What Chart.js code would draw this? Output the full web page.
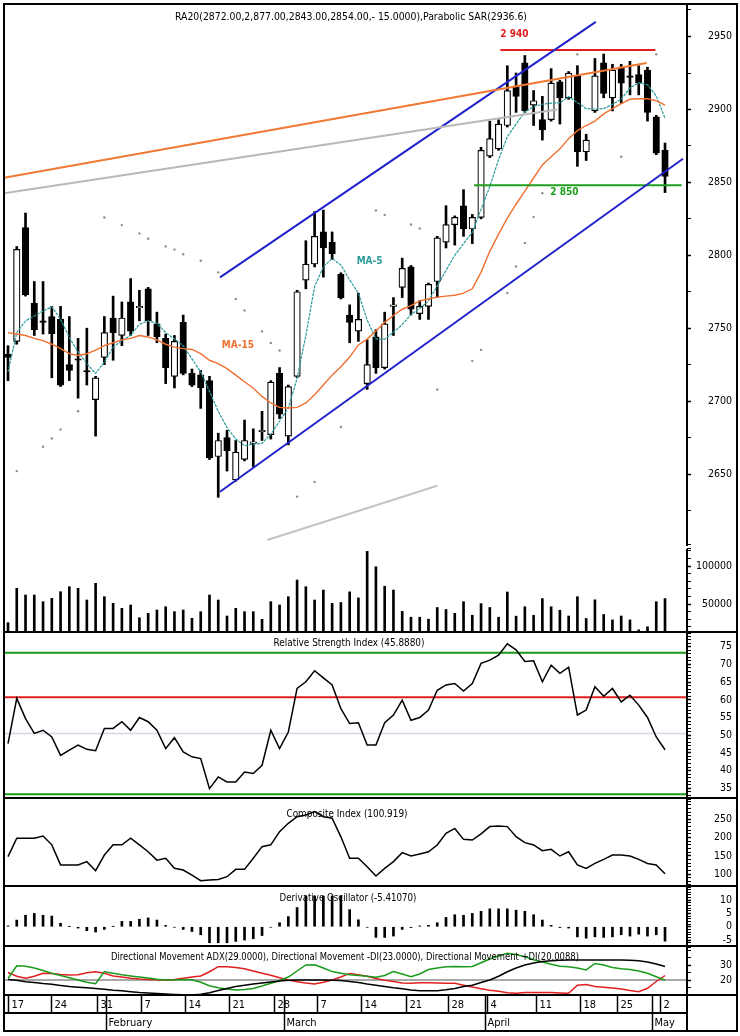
<!DOCTYPE html>
<html><head><meta charset="utf-8">
<script src="https://cdn.jsdelivr.net/npm/chart.js@4.4.1/dist/chart.umd.min.js"></script>
<style>
html,body{margin:0;padding:0;background:#fff;}
#wrap{position:relative;width:740px;height:1036px;overflow:hidden;background:#fff;}
canvas{position:absolute;left:0;}
.ln{position:absolute;background:#000;z-index:5;}
</style></head><body><div id="wrap">
<canvas id="cPrice" width="740" height="543" style="top:5px"></canvas>
<canvas id="cVol" width="740" height="84" style="top:548px"></canvas>
<canvas id="cRsi" width="740" height="164" style="top:633px"></canvas>
<canvas id="cCi" width="740" height="87" style="top:799px"></canvas>
<canvas id="cDo" width="740" height="58" style="top:887px"></canvas>
<canvas id="cDmi" width="740" height="85" style="top:947px"></canvas>
<div class="ln" style="left:3px;top:3px;width:735px;height:2px"></div>
<div class="ln" style="left:3px;top:1030px;width:735px;height:2px"></div>
<div class="ln" style="left:3px;top:3px;width:2px;height:1029px"></div>
<div class="ln" style="left:736px;top:3px;width:2px;height:1029px"></div>
<div class="ln" style="left:686px;top:3px;width:2px;height:543px"></div>
<div class="ln" style="left:686px;top:549px;width:2px;height:483px"></div>
<div class="ln" style="left:3px;top:631px;width:735px;height:2px"></div>
<div class="ln" style="left:3px;top:797px;width:735px;height:2px"></div>
<div class="ln" style="left:3px;top:885px;width:735px;height:2px"></div>
<div class="ln" style="left:3px;top:945px;width:735px;height:2px"></div>
<div class="ln" style="left:3px;top:994px;width:735px;height:2px"></div>
<div class="ln" style="left:3px;top:1012px;width:684px;height:2px"></div>
</div>
<script>
// ---------------- DATA ----------------
const open  = [2732,2741,2819,2767,2755,2758,2756,2725,2729,2721,2701,2730,2757,2745,2768,2764,2777,2753,2743,2717,2754,2719,2718,2714,2662,2675,2646,2660,2671,2679,2677,2719,2676,2717,2783,2794,2816,2809,2787,2759,2748,2712,2744,2723,2765,2778,2792,2760,2765,2782,2809,2821,2834,2818,2826,2868,2873,2889,2916,2932,2903,2893,2893,2919,2908,2923,2871,2899,2932,2908,2929,2923,2924,2927,2895,2872];
const high  = [2738,2806,2829,2782,2782,2765,2765,2758,2743,2750,2717,2758,2772,2768,2784,2776,2778,2761,2746,2745,2759,2722,2721,2717,2678,2680,2673,2687,2681,2693,2714,2723,2711,2776,2810,2830,2831,2816,2788,2766,2774,2742,2749,2761,2771,2798,2793,2769,2781,2813,2834,2827,2845,2828,2874,2892,2893,2930,2925,2937,2913,2909,2928,2920,2926,2930,2883,2935,2938,2931,2931,2933,2930,2929,2896,2877];
const low   = [2714,2739,2772,2745,2746,2716,2710,2714,2702,2711,2676,2725,2728,2738,2745,2755,2745,2740,2712,2709,2718,2710,2695,2660,2634,2652,2645,2659,2655,2673,2674,2688,2670,2716,2777,2792,2785,2797,2770,2740,2741,2708,2719,2722,2745,2771,2759,2756,2756,2771,2805,2807,2813,2808,2825,2867,2872,2888,2898,2898,2889,2879,2892,2890,2907,2861,2865,2898,2908,2899,2904,2910,2910,2892,2869,2843];
const close = [2730,2804,2773,2749,2754,2746,2711,2721,2728,2720,2716,2747,2747,2757,2748,2765,2755,2744,2723,2741,2719,2711,2709,2661,2673,2666,2665,2673,2672,2680,2713,2691,2710,2775,2794,2813,2805,2801,2771,2754,2756,2725,2723,2753,2766,2791,2763,2765,2780,2812,2821,2826,2818,2826,2872,2880,2890,2913,2909,2899,2906,2886,2918,2908,2925,2871,2879,2923,2911,2927,2918,2922,2918,2898,2870,2854];
const ma5   = [2720,2747,2755,2758.4,2761.7,2764.7,2756,2743.7,2733.6,2725.7,2719,2726.8,2737,2741.5,2745,2752.7,2755,2753.4,2747,2742.6,2738,2729,2720,2706.6,2693,2681.8,2674,2669.4,2670.5,2671,2677.3,2686.3,2695.3,2715.6,2745,2778.6,2792.1,2797.8,2793.3,2783.1,2774,2755.6,2742.5,2742.5,2747.2,2752.4,2759.5,2763.4,2768.7,2779,2789.6,2800,2808,2815.8,2831.5,2847.2,2865.6,2881.3,2890,2898.4,2902,2903.6,2904.3,2904.7,2908.8,2904.7,2900.6,2900.2,2900.6,2903.6,2907,2914.8,2918.2,2917,2909.2,2894];
const ma15  = [2747,2746,2745,2743,2741.5,2739,2736,2732.5,2731.3,2732.5,2735,2738,2740,2742,2743,2745,2744,2742,2739,2737,2736,2735.4,2732.5,2728,2725.7,2722.3,2717.8,2713.3,2708.8,2703.2,2698.7,2695.7,2695.3,2695.7,2698.7,2704.3,2711,2717.8,2723.5,2730.2,2738.5,2742.5,2748,2754,2758.7,2763,2765.5,2768.7,2770,2771.3,2772,2772.6,2774,2777,2788.3,2802.7,2814.5,2825.5,2835,2844,2853,2862,2867.5,2873,2880,2885.5,2889,2892,2897,2900.6,2904,2907,2907.4,2907.4,2906,2903];
const sarIdx = [1,4,5,6,8,11,13,15,16,18,19,20,22,24,26,27,29,30,31,33,35,38,42,43,46,47,49,53,54,57,58,59,60,61,65,70,74];
const sarVal = [2652,2668.7,2674.3,2680.6,2693,2825.9,2820.7,2815,2811.3,2806.1,2803.9,2800.7,2796.2,2788.3,2770.1,2762.2,2747.8,2739.9,2734.7,2634.5,2644.6,2682.2,2830.7,2827.7,2821.1,2818.4,2708,2727.6,2735.1,2774.1,2792.3,2808.5,2826.2,2842.6,2937.8,2867.6,2937.8];
const volume = [25400,70660,61840,61840,53030,57500,66180,72760,70660,55260,77240,59600,50920,44340,48680,31970,37760,42100,46450,39870,42100,31180,39870,61840,55260,34210,44340,39870,39870,29870,53030,48680,59600,81580,72760,55260,68420,50920,52000,66000,58000,119300,99000,73400,68400,40300,32600,32600,30000,45400,42800,37700,53000,35200,50500,45400,32600,65800,34000,46400,35200,57100,46400,41800,34200,59600,31000,55500,36200,29100,34200,29100,16000,20000,53000,57100];
const rsi = [47.6,60.4,54.7,50.5,51.4,49.5,44.3,45.8,47.2,46,45.6,51.9,51.9,53.8,51.4,55,53.8,51.4,46.2,49.3,45.3,43.9,43.4,34.9,38.2,36.8,36.8,39.6,39.2,41.5,51.4,46.2,50.9,63.2,65.1,68.2,66.2,64.2,57.5,53.3,53.5,47.2,47.2,53.5,55.7,59.9,54.2,55,57.1,62.7,64.2,64.6,62.5,64.6,70.3,71.2,72.6,75.8,74.1,70.8,71,65.1,69.8,67.5,69.2,55.7,57.1,63.7,61,63.2,59.4,61.3,58.5,55,49.5,45.9];
const rsiLevels = [73.3, 60.7, 50.5, 33.3];
const composite = [147.5,198,198,198,204,180,125,125,125,134,109,152,180,180,198,180,161,138,143,115.5,111,97,81.7,83.5,85,92.6,112.7,112.7,143,175,180,216,239,257,262,271,257,253,202,143,143,120,94.5,115.5,134,158.5,149.4,155,161,179.5,211.6,225,195,193,210,230,231.7,230,202.4,186,179.6,164,167.7,149.4,161,125,115.5,129,140,152,152,149.4,140,129,125,100.9];
const derivOsc = [0.3,2.5,4.3,5,4.3,4,1.3,0.1,-0.5,-1.5,-2,-1,0.1,2,2,2.8,3.3,2.5,0.5,-0.2,-1,-1.8,-3,-6,-6,-6,-5.5,-5,-4.5,-3.3,-0.2,1.5,3.8,7.2,11.5,11.5,11.5,11.5,11.5,6.4,2.6,-0.2,-4,-4,-3.5,-1,-0.3,0.3,0.5,1.5,3.5,4.5,4.3,5,5.8,6.7,6.7,6.7,6.2,5.8,4.5,2.5,0.5,-0.3,-0.5,-3.8,-4.3,-3.8,-4,-3.8,-3,-3.5,-2.8,-3.5,-3,-5.41];
const adx = [20.3,19.8,18.8,18.3,17.6,17.1,16.4,15.7,15.2,14.8,14.4,13.9,13.2,12.8,12.2,11.7,11.4,11,10.7,10.4,10.1,10,10.5,11.5,13,14.4,15.6,16.5,17.3,18,18.6,19.3,19.8,20,20,20,20,19.8,19.6,19,18.3,17.3,16.5,15.6,14.8,14.2,13.3,12.9,12.9,12.9,13.5,14.4,15.6,16.5,18.3,20,22.5,25.5,28,30,31.3,32.3,32.9,33.2,33.3,33.3,33.3,33.3,33.3,33.3,33.3,33.2,32.9,32,30.6,29];
const diPlus = [21,29.5,29.2,28,26.3,24.5,23,21.5,20,18.5,17.5,25.6,24.5,23.5,22.7,22,21.3,20.5,20,20,20.4,20.2,18.5,16.2,14.8,14,13.3,13.6,14.4,16,17.8,19.5,22,26,30,30.2,28,25.6,24.5,23.5,23,22.5,21.8,23,25.6,24,22.2,24,27,28,28.9,29,28.9,29,31.5,34,36,37.8,37,35.5,33.5,32,30.5,29.2,28.9,28,26.7,31,30,28.3,27.5,27,26,24.5,22.2,20];
const diMinus = [25,22.5,21.1,22.5,24.5,24.3,23.6,23.3,23.5,24.8,25.5,24.5,22.7,22,21.2,20.6,20.3,20.1,20,20.4,21.2,22,22.7,25.5,28.9,28.8,28.4,27.5,26,24.5,23.2,21.5,20,18.9,18,17.3,18.5,20,22,24.4,23.5,22.5,21,19.8,19,18,17.8,18.2,18.2,18,17.8,17.8,16.5,15.3,14.2,13.2,12.5,11.5,11.2,11.6,11.6,11.6,11.6,11.3,11.1,16.5,17,15.6,15.2,14.6,14,13,12.2,14.5,19,23];
const dmiLevel = 20;
// trend lines: [index, price] pairs
const trendOrange = [[-0.46, 2853.2], [72.9, 2931.8]];
const trendGray   = [[-0.46, 2842.6], [62.7, 2900]];
const channelUp   = [[24.2, 2784.9], [67.1, 2960.1]];
const channelLow  = [[24.2, 2637.8], [77.05, 2866.2]];
const grayLow     = [[29.6, 2604.7], [49.0, 2641.9]];
const resistance  = [[56.2, 2940.7], [73.9, 2940.7]];
const support     = [[53.2, 2848], [76.9, 2848]];
// axis tick labels
const priceTickLabels = [2650, 2700, 2750, 2800, 2850, 2900, 2950];
const volTickLabels   = [50000, 100000];
const rsiTickLabels   = [35, 40, 45, 50, 55, 60, 65, 70, 75];
const ciTickLabels    = [100, 150, 200, 250];
const doTickLabels    = [-5, 0, 5, 10];
const dmiTickLabels   = [20, 30];
// date axis
const dayLabels = ['17','24','31','7','14','21','28','7','14','21','28','4','11','18','25','2','9'];
const dayPos    = [0,4.9,10.2,15.2,20.2,25.2,30.4,35.3,40.3,45.4,50.2,54.7,60.3,65.3,69.5,74.4,77.6];
const monthLabels = ['February','March','April','May'];
const monthPos    = [11.2,31.5,54.4,73.55];

// ---------------- HELPERS ----------------
const FONT = '"Liberation Sans Narrow","DejaVu Sans Condensed","Arial Narrow",sans-serif';
const X_MIN = -0.457, X_MAX = 77.51;
const idx = close.map((_, i) => i);
const series = arr => arr.map((v, i) => ({x: i, y: v}));
const pairLine = p => p.map(q => ({x: q[0], y: q[1]}));
const flat = v => [{x: X_MIN, y: v}, {x: X_MAX, y: v}];

function xScale(){ return {type:'linear', min:X_MIN, max:X_MAX, display:false, offset:false}; }
function yScale(min, max, step, labels){
  const isMajor = v => labels.some(l => Math.abs(l - v) < step * 1e-3);
  return {
    position:'right', min, max, beginAtZero:false,
    afterFit(s){ s.width = 45; },
    afterBuildTicks(s){
      const t = [{value:min}];
      for (let v = Math.ceil(min / step) * step; v < max - step * 1e-3; v += step) {
        const r = Math.round(v * 1000) / 1000;
        if (r > min + step * 1e-3) t.push({value:r});
      }
      t.push({value:max});
      s.ticks = t;
    },
    border:{display:false},
    grid:{drawOnChartArea:false, drawTicks:true, tickLength:4, tickColor:'#000',
          tickWidth:(c)=> (c.tick && isMajor(c.tick.value)) ? 1.5 : 1},
    ticks:{autoSkip:false, crossAlign:'far', padding:0,
           color:'#000', font:{family:FONT, size:10.5},
           callback:(v)=> isMajor(v) ? String(Math.round(v)) : []}
  };
}
function baseOpts(y, bottomPad){
  return {responsive:false, animation:false, events:[],
    layout:{padding:{left:4, right:8, top:0, bottom:bottomPad||0}},
    plugins:{legend:{display:false}, tooltip:{enabled:false}},
    scales:{x:xScale(), y:y}};
}
function titlePlugin(items){
  return {id:'titles', afterDraw(c){
    const ctx = c.ctx; ctx.save();
    ctx.fillStyle = '#000'; ctx.textAlign = 'center'; ctx.textBaseline = 'middle';
    ctx.font = '11px ' + FONT;
    for (const t of items) ctx.fillText(t.text, t.x, t.y, t.w);
    ctx.restore();
  }};
}
function lineDs(data, color, width, order){
  return {type:'line', data, borderColor:color, borderWidth:width, pointRadius:0, fill:false, tension:0, order:order||0};
}

// ---------------- PRICE ----------------
const priceAnnot = {id:'priceAnnot', afterDatasetsDraw(c){
  const {ctx, scales:{x, y}} = c; ctx.save();
  ctx.font = 'bold 10px ' + FONT; ctx.textBaseline = 'middle'; ctx.textAlign = 'left';
  ctx.fillStyle = '#f07030'; ctx.fillText('MA-15', x.getPixelForValue(24.4), y.getPixelForValue(2738.5));
  ctx.fillStyle = '#2a9a9a'; ctx.fillText('MA-5', x.getPixelForValue(39.8), y.getPixelForValue(2796));
  ctx.fillStyle = '#e02020'; ctx.fillText('2 940', x.getPixelForValue(56.2), y.getPixelForValue(2951.4));
  ctx.fillStyle = '#20a020'; ctx.fillText('2 850', x.getPixelForValue(61.9), y.getPixelForValue(2843.2));
  ctx.restore();
}};
new Chart(document.getElementById('cPrice'), {
  type:'bar',
  data:{datasets:[
    lineDs(pairLine(trendGray), '#b8b8b8', 2, 0),
    lineDs(pairLine(grayLow), '#c4c4c4', 2, 0),
    lineDs(pairLine(trendOrange), '#f07830', 2, 0),
    lineDs(pairLine(channelUp), '#2222cc', 2, 0),
    lineDs(pairLine(channelLow), '#2222cc', 2, 0),
    lineDs(pairLine(resistance), '#e02020', 2, 0),
    lineDs(pairLine(support), '#20a020', 2, 0),
    lineDs(series(ma15), '#f07030', 1.4, 0),
    Object.assign(lineDs(series(ma5), '#2a9a9a', 1.2, 0), {borderDash:[3,1]}),
    {type:'line', data: sarIdx.map((i, k) => ({x:i, y:sarVal[k]})), showLine:false,
     pointRadius:1.2, pointBackgroundColor:'#8a8a8a', pointBorderWidth:0, order:0},
    {type:'bar', data: idx.map(i => ({x:i, y:[Math.min(open[i], close[i]), Math.max(open[i], close[i])]})),
     backgroundColor: idx.map(i => close[i] >= open[i] ? '#ffffff' : '#000000'),
     borderColor:'#000', borderWidth:1.2, borderSkipped:false, barThickness:6.5, grouped:false, order:1},
    {type:'bar', data: idx.map(i => ({x:i, y:[low[i], high[i]]})),
     backgroundColor:'#000', borderWidth:0, barThickness:2, grouped:false, order:2}
  ]},
  options: baseOpts(yScale(2602, 2968.9, 25, priceTickLabels)),
  plugins:[priceAnnot, titlePlugin([{text:'RA20(2872.00,2,877.00,2843.00,2854.00,- 15.0000),Parabolic SAR(2936.6)', x:351, y:12, w:352}])]
});

// ---------------- VOLUME ----------------
new Chart(document.getElementById('cVol'), {
  type:'bar',
  data:{datasets:[{data: series(volume), backgroundColor:'#000', barThickness:2, borderWidth:0}]},
  options: baseOpts(yScale(13158, 123685, 10000, volTickLabels))
});

// ---------------- RSI ----------------
new Chart(document.getElementById('cRsi'), {
  type:'line',
  data:{datasets:[
    lineDs(flat(rsiLevels[0]), '#1a9a1a', 2, 2),
    lineDs(flat(rsiLevels[1]), '#e02020', 2, 2),
    lineDs(flat(rsiLevels[2]), '#d6d6e6', 1.5, 2),
    lineDs(flat(rsiLevels[3]), '#1a9a1a', 2, 2),
    lineDs(series(rsi), '#000', 1.5, 0)
  ]},
  options: baseOpts(yScale(32.54, 78.87, 1, rsiTickLabels)),
  plugins:[titlePlugin([{text:'Relative Strength Index (45.8880)', x:349, y:10, w:151}])]
});

// ---------------- COMPOSITE INDEX ----------------
new Chart(document.getElementById('cCi'), {
  type:'line',
  data:{datasets:[lineDs(series(composite), '#000', 1.5, 0)]},
  options: baseOpts(yScale(67.1, 305.7, 10, ciTickLabels)),
  plugins:[titlePlugin([{text:'Composite Index (100.919)', x:347, y:15, w:121}])]
});

// ---------------- DERIVATIVE OSCILLATOR ----------------
new Chart(document.getElementById('cDo'), {
  type:'bar',
  data:{datasets:[{data: series(derivOsc), backgroundColor:'#000', barThickness:2, borderWidth:0}]},
  options: baseOpts(yScale(-6.85, 14.9, 1, doTickLabels)),
  plugins:[titlePlugin([{text:'Derivative Oscillator (-5.41070)', x:348, y:11, w:137}])]
});

// ---------------- DMI + DATE BAND ----------------
const dateBand = {id:'dateBand', afterDraw(c){
  const ctx = c.ctx, xs = c.scales.x;
  const top = 48, mid = 66, bot = 84;
  ctx.save();
  ctx.beginPath(); ctx.rect(4, top, 683, bot - top); ctx.clip();
  ctx.fillStyle = '#000'; ctx.strokeStyle = '#000'; ctx.lineWidth = 1.5;
  ctx.font = '11px ' + FONT; ctx.textBaseline = 'middle'; ctx.textAlign = 'left';
  dayLabels.forEach((lab, k) => {
    const px = Math.round(xs.getPixelForValue(dayPos[k])) + 0.5;
    ctx.beginPath(); ctx.moveTo(px, top); ctx.lineTo(px, mid); ctx.stroke();
    ctx.fillText(lab, px + 3, (top + mid) / 2 + 1);
  });
  monthLabels.forEach((lab, k) => {
    const px = Math.round(xs.getPixelForValue(monthPos[k])) + 0.5;
    ctx.beginPath(); ctx.moveTo(px, top); ctx.lineTo(px, bot); ctx.stroke();
    ctx.fillText(lab, px + 2, (mid + bot) / 2 + 1);
  });
  ctx.restore();
}};
new Chart(document.getElementById('cDmi'), {
  type:'line',
  data:{datasets:[
    lineDs(flat(dmiLevel), '#8c8c8c', 1.5, 3),
    lineDs(series(diMinus), '#e02020', 1.5, 2),
    lineDs(series(diPlus), '#1a9a1a', 1.5, 1),
    lineDs(series(adx), '#000', 1.5, 0)
  ]},
  options: baseOpts(yScale(10, 42, 5, dmiTickLabels), 37),
  plugins:[dateBand, titlePlugin([{text:'Directional Movement ADX(29.0000), Directional Movement -DI(23.0000), Directional Movement +DI(20.0088)', x:345, y:10, w:468}])]
});
</script></body></html>
